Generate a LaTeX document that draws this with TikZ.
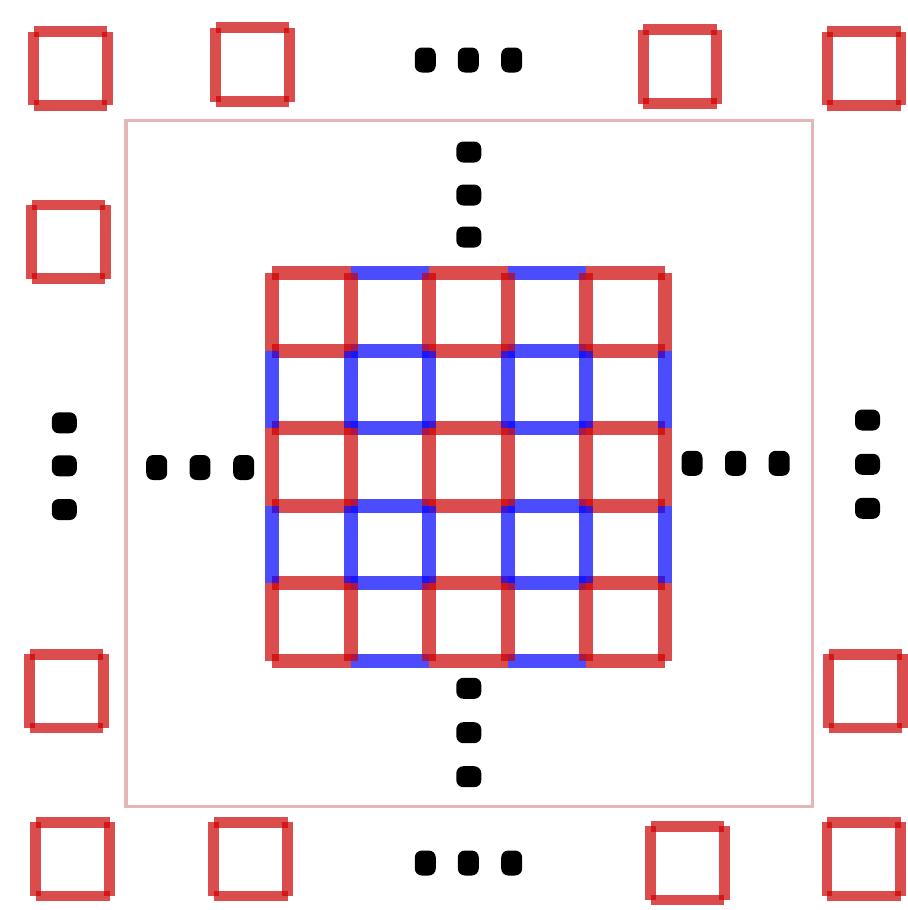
\documentclass[tikz,border=0pt]{standalone}
\usepackage{tikz}
\usetikzlibrary{positioning}
\usepackage{xcolor}
\definecolor{GridRed}{RGB}{204,0,0}
\definecolor{GridBlue}{RGB}{0,0,255}
\definecolor{FrameRose}{RGB}{229,182,182}
\definecolor{DotBlack}{HTML}{000000}
\tikzset{
    % Grid edge styles - square caps so the crossings overlap
    rededge/.style={
        draw=GridRed,
        line width=8pt,
        line cap=square,
        draw opacity=0.7
    },
    blueedge/.style={
        draw=GridBlue,
        line width=8pt,
        line cap=square,
        draw opacity=0.7
    },
    % Small boxes round the outside
    cornerbox/.style={
        draw=GridRed,
        line width=6.2pt,
        line cap=square,
        draw opacity=0.7
    },
    outerframe/.style={
        draw=FrameRose,
        line width=2pt
    },
    % Ellipsis dots - rows and columns
    hdot/.style={
        rectangle,
        rounded corners=4pt,
        fill=DotBlack,
        inner sep=0pt,
        minimum width=0.42cm,
        minimum height=0.5cm
    },
    vdot/.style={
        rectangle,
        rounded corners=4pt,
        fill=DotBlack,
        inner sep=0pt,
        minimum width=0.5cm,
        minimum height=0.42cm
    }
}

\begin{document}
\begin{tikzpicture}[x=0.02cm, y=-0.02cm]
    \useasboundingbox (0,0) rectangle (908,910);

    \draw[outerframe] (126,120.5) rectangle (812.5,806.5);

    \foreach \i in {0,...,5}
        \foreach \j in {0,...,5}
            \coordinate (g\i\j) at ({272+78.6*\i},{273+77.6*\j});

    \foreach \j in {0,...,5} {
        \foreach \i/\k in {0/1,2/3,4/5} \draw[rededge] (g\i\j) -- (g\k\j);
        \foreach \i/\k in {1/2,3/4} \draw[blueedge] (g\i\j) -- (g\k\j);
    }
    \foreach \i in {0,...,5} {
        \foreach \j/\k in {0/1,2/3,4/5} \draw[rededge] (g\i\j) -- (g\i\k);
        \foreach \j/\k in {1/2,3/4} \draw[blueedge] (g\i\j) -- (g\i\k);
    }

    \foreach \cx/\cy in {70.5/68.5, 252.3/64.7, 680/66.7, 864.2/68.5,
                         68.5/241.8, 66.3/691.2, 865.5/691.2,
                         72.7/859.2, 250.7/859.2, 687.5/863.2, 863.8/859.2} {
        \draw[cornerbox] ({\cx-36.8},{\cy-36.8}) -- ({\cx+36.8},{\cy-36.8});
        \draw[cornerbox] ({\cx+36.8},{\cy-36.8}) -- ({\cx+36.8},{\cy+36.8});
        \draw[cornerbox] ({\cx+36.8},{\cy+36.8}) -- ({\cx-36.8},{\cy+36.8});
        \draw[cornerbox] ({\cx-36.8},{\cy+36.8}) -- ({\cx-36.8},{\cy-36.8});
    }

    \foreach \x [count=\n] in {425.3,468.3,511.7}
        \node[hdot] (top\n) at (\x,60) {};
    \foreach \x [count=\n] in {425.3,468.3,511.7}
        \node[hdot] (bottom\n) at (\x,863) {};
    \foreach \x [count=\n] in {156.7,200,243.7}
        \node[hdot] (innerleft\n) at (\x,467.5) {};
    \foreach \x [count=\n] in {692,735.5,779.2}
        \node[hdot] (innerright\n) at (\x,463.3) {};
    \foreach \y [count=\n] in {152,195,237}
        \node[vdot] (innertop\n) at (468.8,\y) {};
    \foreach \y [count=\n] in {688.3,732.7,776.7}
        \node[vdot] (innerbottom\n) at (468.8,\y) {};
    \foreach \y [count=\n] in {422.8,465.8,509.5}
        \node[vdot] (left\n) at (64.3,\y) {};
    \foreach \y [count=\n] in {420,464.3,508.3}
        \node[vdot] (right\n) at (867.5,\y) {};
\end{tikzpicture}
\end{document}
